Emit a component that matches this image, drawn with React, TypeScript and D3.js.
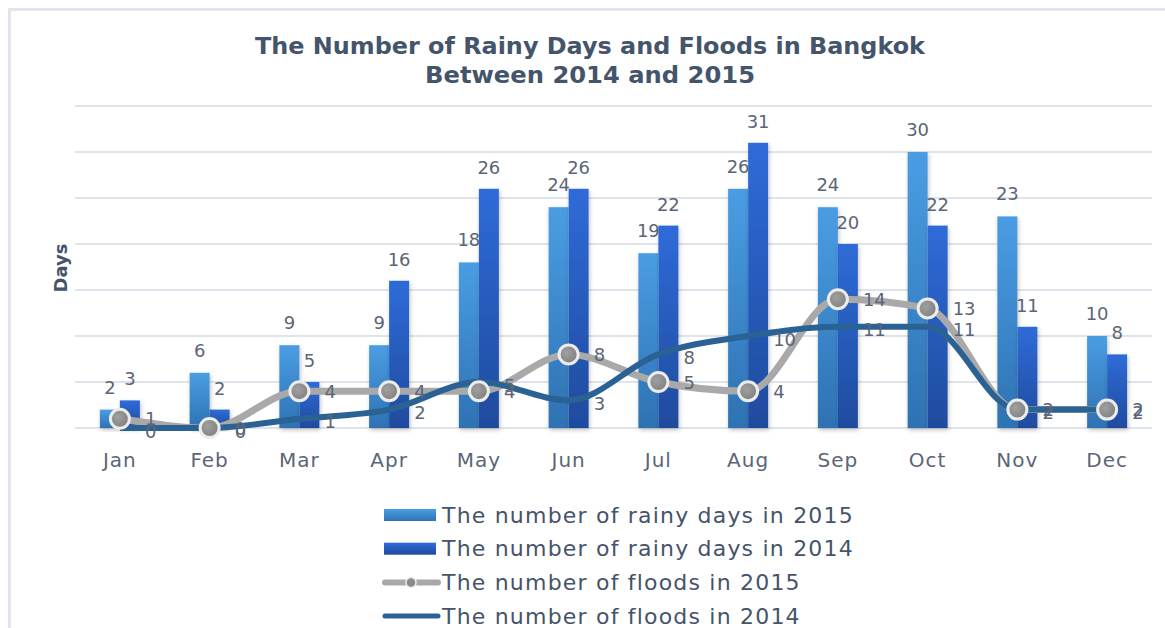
import React from "react";
import * as d3 from "d3";

const months = ["Jan", "Feb", "Mar", "Apr", "May", "Jun", "Jul", "Aug", "Sep", "Oct", "Nov", "Dec"];
const rainy2015 = [2, 6, 9, 9, 18, 24, 19, 26, 24, 30, 23, 10];
const rainy2014 = [3, 2, 5, 16, 26, 26, 22, 31, 20, 22, 11, 8];
const floods2015 = [1, 0, 4, 4, 4, 8, 5, 4, 14, 13, 2, 2];
const floods2014 = [0, 0, 1, 2, 5, 3, 8, 10, 11, 11, 2, 2];
const yTicks = [0, 5, 10, 15, 20, 25, 30, 35];
const titleLines = ["The Number of Rainy Days and Floods in Bangkok", "Between 2014 and 2015"];
const legendItems = [
  "The number of rainy days in 2015",
  "The number of rainy days in 2014",
  "The number of floods in 2015",
  "The number of floods in 2014",
];

const W = 1165;
const H = 628;
const left = 75;
const right = 1152;
const top = 106;
const bottom = 428;

export default function App() {
  const x = d3.scaleBand<string>().domain(months).range([left, right]).padding(0);
  const y = d3.scaleLinear().domain([0, 35]).range([bottom, top]);
  const cx = (m: string) => (x(m) as number) + x.bandwidth() / 2;
  const barW = 20;

  const line = d3
    .line<number>()
    .x((_, i) => cx(months[i]))
    .y((d) => y(d))
    .curve(d3.curveMonotoneX);

  const labelColor = "#5b6577";
  const titleColor = "#44546a";
  const font = "'DejaVu Sans', Verdana, sans-serif";

  return (
    <svg
      width={W}
      height={H}
      style={{ position: "absolute", left: 0, top: 0, background: "#fff" }}
      fontFamily={font}
    >
      <defs>
        <linearGradient id="g2015" x1="0" y1="0" x2="0" y2="1">
          <stop offset="0" stopColor="#4a9de3" />
          <stop offset="1" stopColor="#2e72b3" />
        </linearGradient>
        <linearGradient id="g2014" x1="0" y1="0" x2="0" y2="1">
          <stop offset="0" stopColor="#2f6bd8" />
          <stop offset="1" stopColor="#1f4b9e" />
        </linearGradient>
        <radialGradient id="gm" cx="0.4" cy="0.4" r="0.7">
          <stop offset="0" stopColor="#a0a0a0" />
          <stop offset="1" stopColor="#7c7c7c" />
        </radialGradient>
        <filter id="sh" x="-30%" y="-10%" width="160%" height="130%">
          <feDropShadow dx="1" dy="2" stdDeviation="2" floodColor="#000" floodOpacity="0.25" />
        </filter>
      </defs>

      <rect x={9.5} y={9.5} width={1300} height={700} fill="none" stroke="#dfe4ed" strokeWidth={3} />

      {titleLines.map((t, i) => (
        <text
          key={t}
          x={590}
          y={54 + i * 29}
          textAnchor="middle"
          fontSize={23}
          fontWeight="bold"
          fill={titleColor}
          textLength={i === 0 ? 670 : 330}
          lengthAdjust="spacingAndGlyphs"
        >
          {t}
        </text>
      ))}

      {yTicks.map((t) => (
        <line key={t} x1={left} x2={right} y1={y(t)} y2={y(t)} stroke="#dfe4ec" strokeWidth={2} />
      ))}

      <text
        transform={`translate(67,268) rotate(-90)`}
        textAnchor="middle"
        fontSize={18}
        fontWeight="bold"
        fill={titleColor}
      >
        Days
      </text>

      {months.map((m, i) => (
        <g key={m}>
          <rect
            x={cx(m) - barW}
            y={y(rainy2015[i])}
            width={barW}
            height={bottom - y(rainy2015[i])}
            fill="url(#g2015)"
            filter="url(#sh)"
          />
          <rect
            x={cx(m)}
            y={y(rainy2014[i])}
            width={barW}
            height={bottom - y(rainy2014[i])}
            fill="url(#g2014)"
            filter="url(#sh)"
          />
        </g>
      ))}

      {months.map((m, i) => (
        <g key={"bl" + m} fontSize={18} fill={labelColor} textAnchor="middle">
          <text x={cx(m) - barW / 2} y={y(rainy2015[i]) - 16}>
            {rainy2015[i]}
          </text>
          <text x={cx(m) + barW / 2} y={y(rainy2014[i]) - 15}>
            {rainy2014[i]}
          </text>
        </g>
      ))}

      <path d={line(floods2015) || ""} fill="none" stroke="#a9a9a9" strokeWidth={7} strokeLinejoin="round" />
      <path d={line(floods2014) || ""} fill="none" stroke="#2b6294" strokeWidth={6} strokeLinejoin="round" />

      {months.map((m, i) => (
        <circle
          key={"c" + m}
          cx={cx(m)}
          cy={y(floods2015[i])}
          r={9.5}
          fill="url(#gm)"
          stroke="#ececec"
          strokeWidth={3}
        />
      ))}

      {months.map((m, i) => (
        <g key={"fl" + m} fontSize={18} fill={labelColor} dominantBaseline="central">
          <text x={cx(m) + 25} y={y(floods2015[i])}>
            {floods2015[i]}
          </text>
          <text x={cx(m) + 25} y={y(floods2014[i]) + 3}>
            {floods2014[i]}
          </text>
        </g>
      ))}

      {months.map((m) => (
        <text
          key={"m" + m}
          x={cx(m)}
          y={467}
          textAnchor="middle"
          fontSize={20}
          letterSpacing={1}
          fill={labelColor}
        >
          {m}
        </text>
      ))}

      {legendItems.map((t, i) => {
        const yc = 515 + i * 33.7;
        return (
          <g key={t}>
            {i === 0 && <rect x={384} y={yc - 6} width={52} height={12} fill="url(#g2015)" />}
            {i === 1 && <rect x={384} y={yc - 6} width={52} height={12} fill="url(#g2014)" />}
            {i === 2 && (
              <g>
                <line x1={385} x2={438} y1={yc} y2={yc} stroke="#a9a9a9" strokeWidth={6} strokeLinecap="round" />
                <circle cx={411} cy={yc} r={5} fill="#8a8a8a" stroke="#ececec" strokeWidth={1.5} />
              </g>
            )}
            {i === 3 && (
              <line x1={385} x2={438} y1={yc} y2={yc} stroke="#2b6294" strokeWidth={5} strokeLinecap="round" />
            )}
            <text
              x={442}
              y={yc}
              dominantBaseline="central"
              fontSize={22}
              letterSpacing={1.2}
              fill={titleColor}
            >
              {t}
            </text>
          </g>
        );
      })}
    </svg>
  );
}
